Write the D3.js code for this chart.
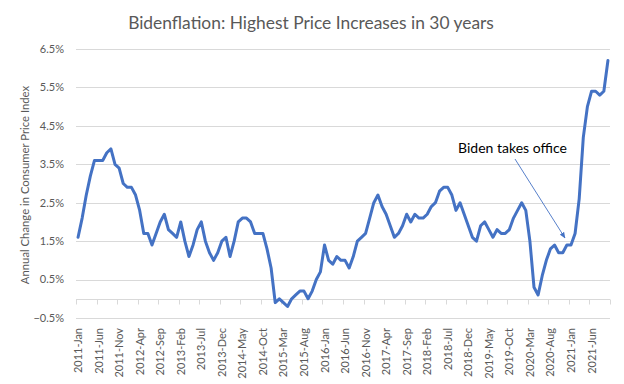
<!DOCTYPE html>
<html>
<head>
<meta charset="utf-8">
<script src="https://cdn.jsdelivr.net/npm/d3@7"></script>
<style>
html,body{margin:0;padding:0;background:#fff;}
svg{display:block;}
</style>
</head>
<body>
<svg id="chart" width="624" height="384"></svg>
<script>
const title = "Bidenflation: Highest Price Increases in 30 years";
const yAxisTitle = "Annual Change in Consumer Price Index";
const annotationText = "Biden takes office";
const annotationCategory = "2021-Jan";

const years = [2011,2012,2013,2014,2015,2016,2017,2018,2019,2020,2021];
const monthNames = ["Jan","Feb","Mar","Apr","May","Jun","Jul","Aug","Sep","Oct","Nov","Dec"];

// Year-over-year CPI change (%), monthly 2011-Jan .. 2021-Oct
const cpi = [
  1.6,2.1,2.7,3.2,3.6,3.6,3.6,3.8,3.9,3.5,3.4,3.0,
  2.9,2.9,2.7,2.3,1.7,1.7,1.4,1.7,2.0,2.2,1.8,1.7,
  1.6,2.0,1.5,1.1,1.4,1.8,2.0,1.5,1.2,1.0,1.2,1.5,
  1.6,1.1,1.5,2.0,2.1,2.1,2.0,1.7,1.7,1.7,1.3,0.8,
  -0.1,0.0,-0.1,-0.2,0.0,0.1,0.2,0.2,0.0,0.2,0.5,0.7,
  1.4,1.0,0.9,1.1,1.0,1.0,0.8,1.1,1.5,1.6,1.7,2.1,
  2.5,2.7,2.4,2.2,1.9,1.6,1.7,1.9,2.2,2.0,2.2,2.1,
  2.1,2.2,2.4,2.5,2.8,2.9,2.9,2.7,2.3,2.5,2.2,1.9,
  1.6,1.5,1.9,2.0,1.8,1.6,1.8,1.7,1.7,1.8,2.1,2.3,
  2.5,2.3,1.5,0.3,0.1,0.6,1.0,1.3,1.4,1.2,1.2,1.4,
  1.4,1.7,2.6,4.2,5.0,5.4,5.4,5.3,5.4,6.2
];

const yTicks = [-0.5,0.5,1.5,2.5,3.5,4.5,5.5,6.5];

const categories = [];
years.forEach(y => monthNames.forEach(m => categories.push(y + "-" + m)));
categories.length = cpi.length;

const tickLabels = ["2011-Jan","2011-Jun","2011-Nov","2012-Apr","2012-Sep","2013-Feb","2013-Jul","2013-Dec",
  "2014-May","2014-Oct","2015-Mar","2015-Aug","2016-Jan","2016-Jun","2016-Nov","2017-Apr","2017-Sep",
  "2018-Feb","2018-Jul","2018-Dec","2019-May","2019-Oct","2020-Mar","2020-Aug","2021-Jan","2021-Jun"];

const data = categories.map((c,i) => ({c, v: cpi[i]}));

const svg = d3.select("#chart");
const mLeft = 76, mRight = 610, mTop = 49, mBottom = 318;

const x = d3.scaleBand().domain(categories).range([mLeft, mRight]).padding(0);
const y = d3.scaleLinear().domain([-0.5, 6.5]).range([mBottom, mTop]);

const font = "Lato, 'Open Sans', sans-serif";
const grey = "#595959";
const gridC = "#d9d9d9";

// Title
svg.append("text")
  .attr("x", 311).attr("y", 29)
  .attr("text-anchor", "middle")
  .attr("font-family", font)
  .attr("font-size", 17.4)
  .attr("fill", grey)
  .text(title);

// Gridlines
svg.append("g").selectAll("line").data(yTicks).join("line")
  .attr("x1", mLeft).attr("x2", mRight)
  .attr("y1", d => Math.round(y(d)) + 0.5).attr("y2", d => Math.round(y(d)) + 0.5)
  .attr("stroke", gridC).attr("stroke-width", 1);

// Y tick labels
svg.append("g").selectAll("text").data(yTicks).join("text")
  .attr("x", 64).attr("y", d => y(d))
  .attr("dy", "0.35em")
  .attr("text-anchor", "end")
  .attr("font-family", font).attr("font-size", 11)
  .attr("fill", grey)
  .text(d => d3.format(".1f")(d) + "%");

// Y axis title
svg.append("text")
  .attr("transform", `translate(29,185) rotate(-90)`)
  .attr("text-anchor", "middle")
  .attr("font-family", font).attr("font-size", 11.3)
  .attr("fill", grey)
  .text(yAxisTitle);

// X axis at zero
const y0 = Math.round(y(0)) + 0.5;
svg.append("line")
  .attr("x1", mLeft).attr("x2", mRight)
  .attr("y1", y0).attr("y2", y0)
  .attr("stroke", gridC).attr("stroke-width", 1);

const tickIdx = d3.range(0, categories.length + 1, 5);
svg.append("g").selectAll("line").data(tickIdx).join("line")
  .attr("x1", i => Math.round(i < categories.length ? x(categories[i]) : mRight) + 0.5)
  .attr("x2", i => Math.round(i < categories.length ? x(categories[i]) : mRight) + 0.5)
  .attr("y1", y0).attr("y2", y0 + 5)
  .attr("stroke", gridC).attr("stroke-width", 1);

// X tick labels
svg.append("g").selectAll("text").data(tickLabels).join("text")
  .attr("transform", d => `translate(${x(d) + x.bandwidth()/2 + 4},328) rotate(-90)`)
  .attr("text-anchor", "end")
  .attr("font-family", font).attr("font-size", 11)
  .attr("fill", grey)
  .text(d => d);

// Line
const line = d3.line()
  .x(d => x(d.c) + x.bandwidth()/2)
  .y(d => y(d.v));

svg.append("path")
  .datum(data)
  .attr("d", line)
  .attr("fill", "none")
  .attr("stroke", "#4472C4")
  .attr("stroke-width", 3)
  .attr("stroke-linejoin", "round")
  .attr("stroke-linecap", "round");

// Annotation
svg.append("defs").append("marker")
  .attr("id", "arrow")
  .attr("viewBox", "0 0 10 10")
  .attr("refX", 9).attr("refY", 5)
  .attr("markerWidth", 7).attr("markerHeight", 7)
  .attr("orient", "auto")
  .append("path")
  .attr("d", "M0,1 L10,5 L0,9 z")
  .attr("fill", "#4472C4");

const annX = x(annotationCategory) + x.bandwidth()/2;
const annV = cpi[categories.indexOf(annotationCategory)];
svg.append("line")
  .attr("x1", 515).attr("y1", 159)
  .attr("x2", annX - 6).attr("y2", y(annV) - 7)
  .attr("stroke", "#4472C4").attr("stroke-width", 0.9)
  .attr("marker-end", "url(#arrow)");

svg.append("text")
  .attr("x", 512.5).attr("y", 153)
  .attr("text-anchor", "middle")
  .attr("font-family", font).attr("font-size", 14)
  .attr("fill", "#000")
  .text(annotationText);
</script>
</body>
</html>
